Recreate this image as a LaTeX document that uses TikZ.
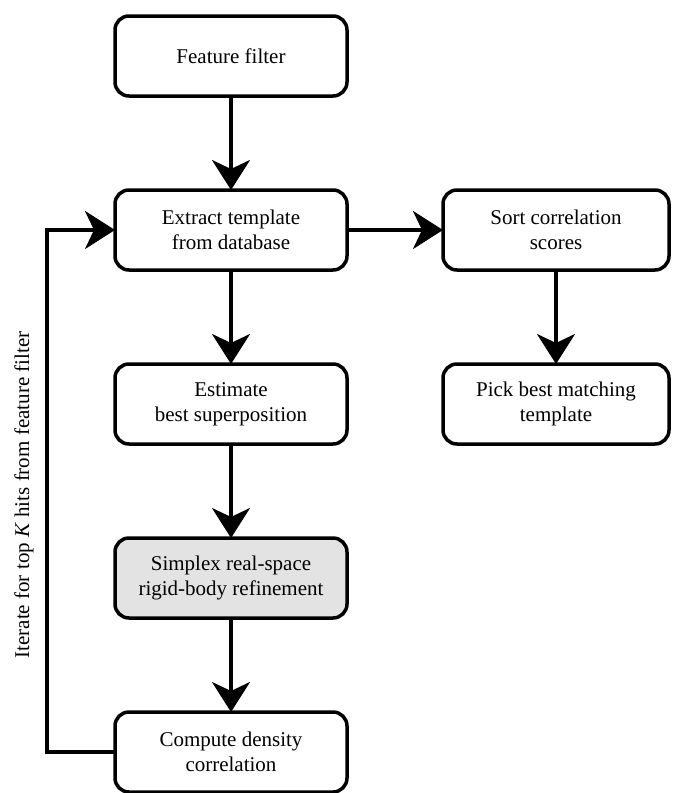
\documentclass[tikz,border=0pt]{standalone}
\usepackage{fontspec}
\setmainfont{Liberation Serif}
\usetikzlibrary{positioning, arrows.meta}

\begin{document}
\begin{tikzpicture}[
            node distance=94pt,
            font=\fontsize{21}{25}\selectfont,
            box/.style={draw, line width=3.5pt, outer sep=0pt, rounded corners=14pt, align=center, minimum width=232pt, minimum height=80pt, fill=white},
            arrow/.style={-{Stealth[length=30pt, width=38pt, inset=9pt]}, line width=3.5pt}
        ]
            \useasboundingbox (0,0) rectangle (675pt,-793pt);
            \node[box] (filter) at (231pt,-56pt) {Feature filter};
\node[box, below=of filter] (extract) {Extract template\\from database};
            \node[box, below=of extract] (superpos) {Estimate\\best superposition};
            \node[box, below=of superpos, fill=gray!22] (simplex) {Simplex real-space\\rigid-body refinement};
\node[box, below=of simplex] (density) {Compute density\\correlation};
            \node[box, minimum width=226pt, right=96pt of extract] (sortcc) {Sort correlation\\scores};
            \node[box, minimum width=226pt, below=of sortcc] (pickbest) {Pick best matching\\template};
            \node[rotate=90] (iterlabel) at (24pt,-495pt) {Iterate for top \textit{K} hits from feature filter};
            \draw[arrow] (filter) -- (extract);
            \draw[arrow] (extract) -- (superpos);
            \draw[arrow] (superpos) -- (simplex);
\draw[arrow] (simplex) -- (density);
            \draw[arrow] (extract) -- (sortcc);
            \draw[arrow] (sortcc) -- (pickbest);
            \draw[arrow] (density.west) -- ++(-68pt,0) |- (extract.west);
        \end{tikzpicture}
\end{document}
